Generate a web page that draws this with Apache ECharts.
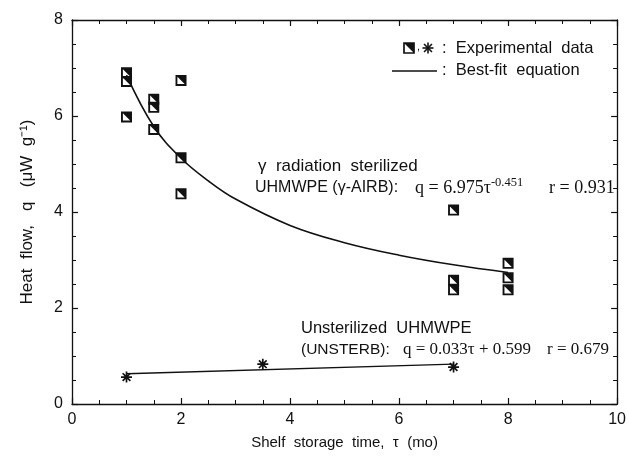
<!DOCTYPE html>
<html>
<head>
<meta charset="utf-8">
<script src="https://cdn.jsdelivr.net/npm/echarts@6/dist/echarts.min.js"></script>
<style>html,body{margin:0;padding:0;background:#fff;}#c{width:629px;height:460px;}</style>
</head>
<body>
<div id="c"></div>
<script>
// ---- data ----
const xTicks = [0, 2, 4, 6, 8, 10];
const yTicks = [0, 2, 4, 6, 8];
// γ-radiation sterilized UHMWPE (γ-AIRB) experimental points
const gammaX = [1, 1, 1, 1.5, 1.5, 1.5, 2, 2, 2, 7, 7, 7, 8, 8, 8];
const gammaY = [6.9, 6.72, 5.98, 6.35, 6.18, 5.72, 6.74, 5.13, 4.38, 4.04, 2.58, 2.38, 2.93, 2.63, 2.38];
// best-fit curve for γ-AIRB
const gammaFitX = [1, 1.5, 2, 2.5, 3, 4, 5, 6, 7, 8];
const gammaFitY = [6.85, 5.78, 5.12, 4.65, 4.27, 3.72, 3.36, 3.1, 2.9, 2.74];
// unsterilized UHMWPE (UNSTERB) experimental points
const unX = [1, 3.5, 7];
const unY = [0.56, 0.83, 0.77];
// best-fit line for UNSTERB
const unFitX = [1, 7];
const unFitY = [0.63, 0.83];

const zip = (a, b) => a.map((v, i) => [v, b[i]]);

const INK = '#111';
const SANS = '"Liberation Sans", Arial, Helvetica, sans-serif';
const SERIF = '"Liberation Serif", "Times New Roman", serif';

const SQUARE = 'path://M0,0 L10,0 L10,10 L0,10 Z M1.7,1.7 L1.7,8.3 L8.3,8.3 Z';
const STAR = 'path://M0,5 L10,5 M5,0 L5,10 M1.5,1.5 L8.5,8.5 M8.5,1.5 L1.5,8.5';

const chart = echarts.init(document.getElementById('c'), null, {renderer: 'canvas'});

const axisCommon = {
  axisLine: {show: true, onZero: false, lineStyle: {color: INK, width: 1.3}},
  axisTick: {show: true, inside: true, length: 6, lineStyle: {color: INK, width: 1.2}},
  minorTick: {show: true, splitNumber: 4, length: 4, lineStyle: {color: INK, width: 1}},
  splitLine: {show: false}
};

function starLines(cx, cy, r) {
  const d = r * 0.72;
  return [
    [cx - r, cy, cx + r, cy], [cx, cy - r, cx, cy + r],
    [cx - d, cy - d, cx + d, cy + d], [cx + d, cy - d, cx - d, cy + d]
  ].map(s => ({type: 'line', shape: {x1: s[0], y1: s[1], x2: s[2], y2: s[3]}, style: {stroke: INK, lineWidth: 1.6}}));
}

const option = {
  animation: false,
  backgroundColor: '#fff',
  grid: {left: 72, right: 11, top: 20, bottom: 56, containLabel: false},
  xAxis: [
    Object.assign({}, axisCommon, {
      type: 'value', min: xTicks[0], max: xTicks[xTicks.length - 1], interval: 2,
      axisLabel: {color: INK, fontSize: 16, fontFamily: SANS, margin: 8},
      name: 'Shelf  storage  time,  τ  (mo)', nameLocation: 'middle', nameGap: 31,
      nameTextStyle: {color: INK, fontSize: 15, fontFamily: SANS}
    }),
    Object.assign({}, axisCommon, {
      type: 'value', position: 'top', min: 0, max: 10, interval: 2,
      axisLabel: {show: false}
    })
  ],
  yAxis: [
    Object.assign({}, axisCommon, {
      type: 'value', min: yTicks[0], max: yTicks[yTicks.length - 1], interval: 2,
      axisLabel: {color: INK, fontSize: 16, fontFamily: SANS, margin: 9},
      name: 'Heat  flow,   q   (μW  g⁻¹)', nameLocation: 'middle', nameGap: 36,
      nameTextStyle: {color: INK, fontSize: 17, fontFamily: SANS}
    }),
    Object.assign({}, axisCommon, {
      type: 'value', position: 'right', min: 0, max: 8, interval: 2,
      axisLabel: {show: false}
    })
  ],
  series: [
    {
      type: 'line', data: zip(gammaFitX, gammaFitY), smooth: 0.4, symbol: 'none',
      lineStyle: {color: INK, width: 1.6}, z: 2
    },
    {
      type: 'line', data: zip(unFitX, unFitY), symbol: 'none',
      lineStyle: {color: INK, width: 1.4}, z: 2
    },
    {
      type: 'scatter', data: zip(gammaX, gammaY), symbol: SQUARE, symbolSize: 11,
      itemStyle: {color: INK, borderColor: INK, borderWidth: 0, opacity: 1}, z: 3
    },
    {
      type: 'scatter', data: zip(unX, unY), symbol: STAR, symbolSize: 11,
      itemStyle: {color: INK, borderColor: INK, borderWidth: 1.7, opacity: 1}, z: 3
    }
  ],
  graphic: [
    // legend
    {type: 'rect', shape: {x: 404, y: 43, width: 10, height: 10}, style: {fill: '#fff', stroke: INK, lineWidth: 1.7}},
    {type: 'polygon', shape: {points: [[404, 43], [414, 43], [414, 53]]}, style: {fill: INK}},
    {type: 'text', x: 417, y: 47, style: {text: ',', fill: INK, font: '11px ' + SANS, verticalAlign: 'middle'}},
    {type: 'group', children: starLines(428, 48, 5.5)},
    {type: 'text', x: 442, y: 48, style: {text: ':  Experimental  data', fill: INK, font: '16.5px ' + SANS, verticalAlign: 'middle'}},
    {type: 'line', shape: {x1: 392, y1: 71, x2: 437, y2: 71}, style: {stroke: INK, lineWidth: 1.4}},
    {type: 'text', x: 442, y: 70, style: {text: ':  Best-fit  equation', fill: INK, font: '16.5px ' + SANS, verticalAlign: 'middle'}},
    // gamma annotation
    {type: 'text', x: 258, y: 166, style: {text: 'γ  radiation  sterilized', fill: INK, font: '17px ' + SANS, verticalAlign: 'middle'}},
    {type: 'text', x: 255, y: 188, style: {text: 'UHMWPE (γ-AIRB):', fill: INK, font: '16px ' + SANS, verticalAlign: 'middle'}},
    {type: 'text', x: 415, y: 188, style: {
      text: '{m|q = 6.975τ}{s|-0.451}', verticalAlign: 'middle', fill: INK,
      rich: {m: {fontFamily: SERIF, fontSize: 18, fill: INK}, s: {fontFamily: SERIF, fontSize: 12.5, fill: INK, verticalAlign: 'top', padding: [0, 0, 10, 0]}}
    }},
    {type: 'text', x: 549, y: 188, style: {text: 'r = 0.931', fill: INK, font: '18px ' + SERIF, verticalAlign: 'middle'}},
    // unsterilized annotation
    {type: 'text', x: 301, y: 328, style: {text: 'Unsterilized  UHMWPE', fill: INK, font: '16.5px ' + SANS, verticalAlign: 'middle'}},
    {type: 'text', x: 301, y: 350, style: {text: '(UNSTERB):', fill: INK, font: '15.5px ' + SANS, verticalAlign: 'middle'}},
    {type: 'text', x: 403, y: 350, style: {text: 'q = 0.033τ + 0.599', fill: INK, font: '17px ' + SERIF, verticalAlign: 'middle'}},
    {type: 'text', x: 547, y: 350, style: {text: 'r = 0.679', fill: INK, font: '17px ' + SERIF, verticalAlign: 'middle'}}
  ]
};
chart.setOption(option);
</script>
</body>
</html>
